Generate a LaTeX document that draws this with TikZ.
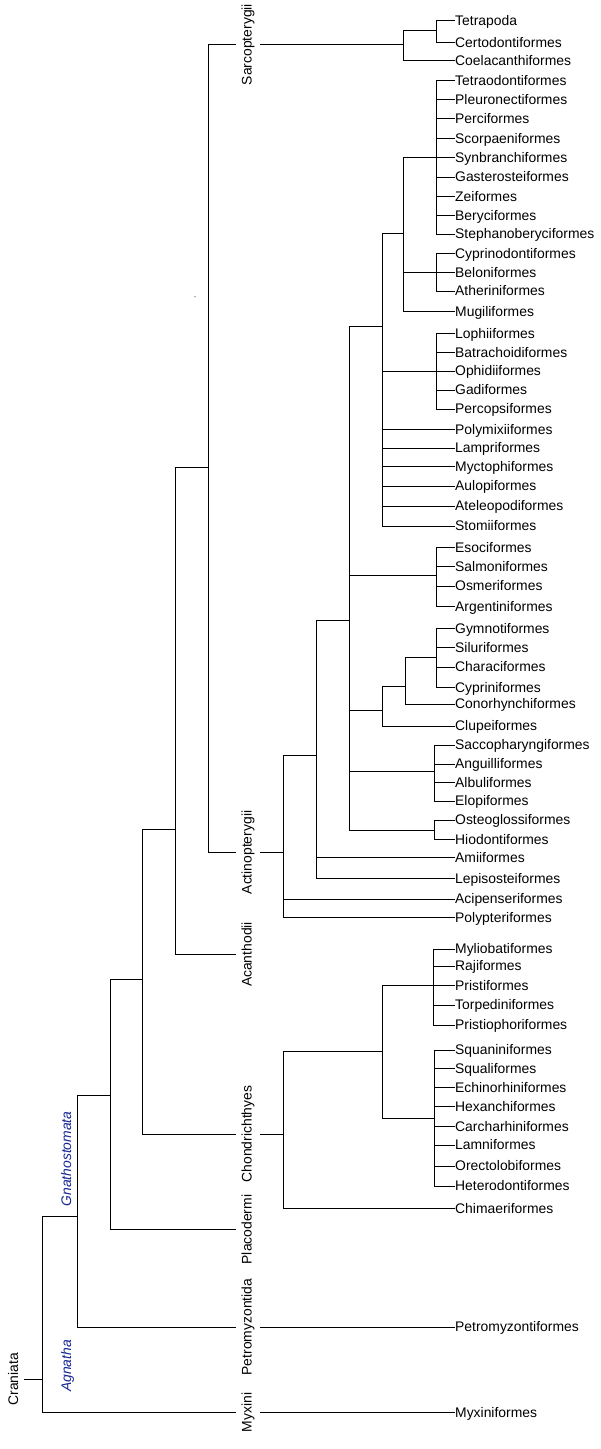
\documentclass[tikz,border=0pt]{standalone}
\usepackage{fontspec}
\setmainfont{Liberation Sans}
\definecolor{cladeblue}{RGB}{22,38,150}
\newcommand\treefont{\fontsize{13.9}{16}\selectfont}
\newcommand\tleaf[3]{\node[leaf] (#1) at (455,#2) {#3};}
\begin{document}
\begin{tikzpicture}[x=1pt,y=-1pt,
  leaf/.style={anchor=west,inner sep=0pt,text height=9.8pt,text depth=0pt,font=\treefont},
  clade/.style={rotate=90,inner xsep=0pt,inner ysep=5pt,text height=10pt,text depth=3pt,font=\treefont},
  group/.style={rotate=90,inner sep=0pt,text height=10pt,text depth=3pt,font=\treefont\itshape,text=cladeblue},
  branch/.style={draw=black,line width=1pt}
]
\useasboundingbox (0,0) rectangle (601,1449);
\fill[white] (0,0) rectangle (601,1449);

% ---------- leaves ----------
\tleaf{tetrapoda}{20.3}{Tetrapoda}
\tleaf{certodont}{42.3}{Certodontiformes}
\tleaf{coelacanth}{60.7}{Coelacanthiformes}
\tleaf{tetraodont}{80.3}{Tetraodontiformes}
\tleaf{pleuronect}{99.3}{Pleuronectiformes}
\tleaf{perci}{118.7}{Perciformes}
\tleaf{scorpaeni}{138.3}{Scorpaeniformes}
\tleaf{synbranchi}{157.7}{Synbranchiformes}
\tleaf{gasterostei}{177}{Gasterosteiformes}
\tleaf{zei}{196.3}{Zeiformes}
\tleaf{beryci}{215.3}{Beryciformes}
\tleaf{stephano}{234}{Stephanoberyciformes}
\tleaf{cyprinodont}{253.3}{Cyprinodontiformes}
\tleaf{beloni}{272.3}{Beloniformes}
\tleaf{atherini}{291}{Atheriniformes}
\tleaf{mugili}{311.7}{Mugiliformes}
\tleaf{lophii}{333.3}{Lophiiformes}
\tleaf{batrachoidi}{352.3}{Batrachoidiformes}
\tleaf{ophidii}{371}{Ophidiiformes}
\tleaf{gadi}{390}{Gadiformes}
\tleaf{percopsi}{409}{Percopsiformes}
\tleaf{polymixii}{429.3}{Polymixiiformes}
\tleaf{lampri}{448}{Lampriformes}
\tleaf{myctophi}{466.7}{Myctophiformes}
\tleaf{aulopi}{486}{Aulopiformes}
\tleaf{ateleopodi}{506}{Ateleopodiformes}
\tleaf{stomii}{526}{Stomiiformes}
\tleaf{esoci}{547.3}{Esociformes}
\tleaf{salmoni}{566.7}{Salmoniformes}
\tleaf{osmeri}{586}{Osmeriformes}
\tleaf{argentini}{606.7}{Argentiniformes}
\tleaf{gymnoti}{628.7}{Gymnotiformes}
\tleaf{siluri}{647.7}{Siluriformes}
\tleaf{characi}{667}{Characiformes}
\tleaf{cyprini}{687.3}{Cypriniformes}
\tleaf{conorhynchi}{704}{Conorhynchiformes}
\tleaf{clupei}{726}{Clupeiformes}
\tleaf{saccopharyngi}{745}{Saccopharyngiformes}
\tleaf{anguilli}{764}{Anguilliformes}
\tleaf{albuli}{782.3}{Albuliformes}
\tleaf{elopi}{801}{Elopiformes}
\tleaf{osteoglossi}{820}{Osteoglossiformes}
\tleaf{hiodonti}{839.3}{Hiodontiformes}
\tleaf{amii}{857.3}{Amiiformes}
\tleaf{lepisostei}{878.3}{Lepisosteiformes}
\tleaf{acipenseri}{899}{Acipenseriformes}
\tleaf{polypteri}{917.3}{Polypteriformes}
\tleaf{myliobati}{949}{Myliobatiformes}
\tleaf{raji}{966}{Rajiformes}
\tleaf{pristi}{985.3}{Pristiformes}
\tleaf{torpedini}{1005}{Torpediniformes}
\tleaf{pristiophori}{1025}{Pristiophoriformes}
\tleaf{squanini}{1050}{Squaniniformes}
\tleaf{squali}{1068.7}{Squaliformes}
\tleaf{echinorhini}{1087.3}{Echinorhiniformes}
\tleaf{hexanchi}{1106.7}{Hexanchiformes}
\tleaf{carcharhini}{1126.7}{Carcharhiniformes}
\tleaf{lamni}{1145}{Lamniformes}
\tleaf{orectolobi}{1166}{Orectolobiformes}
\tleaf{heterodonti}{1186}{Heterodontiformes}
\tleaf{chimaeri}{1208.3}{Chimaeriformes}
\tleaf{petromyzonti}{1327}{Petromyzontiformes}
\tleaf{myxini}{1412.3}{Myxiniformes}

% ---------- clade labels ----------
\node[clade] (Lsarco) at (248,44.5) {Sarcopterygii};
\node[clade] (Lacti) at (248,852.5) {Actinopterygii};
\node[clade] (Lacanth) at (248,954.5) {Acanthodii};
\node[clade] (Lchond) at (248,1134) {Chondrichthyes};
\node[clade] (Lplaco) at (248,1229.5) {Placodermi};
\node[clade] (Lpetro) at (248,1327) {Petromyzontida};
\node[clade] (Lmyx) at (248,1412.3) {Myxini};
\node[clade,inner ysep=3pt] (Lcran) at (14.5,1379.3) {Craniata};
\node[group] (Lgnath) at (67.5,1159) {Gnathostomata};
\node[group] (Lagn) at (67.5,1366) {Agnatha};

% ---------- internal junctions ----------
\coordinate (root) at (42.3,1379.3);
\coordinate (gnatho) at (77.3,1216);
\coordinate (n110) at (110,1095);
\coordinate (n142) at (142.3,979);
\coordinate (n175) at (175.5,829);
\coordinate (n208) at (208.3,467.3);
\coordinate (sarco) at (403.3,44.5);
\coordinate (tc) at (436.7,30.5);
\coordinate (acti) at (283.3,852.5);
\coordinate (a316) at (316,755);
\coordinate (a349) at (349.3,620.7);
\coordinate (a383) at (382.7,326.7);
\coordinate (perco) at (403.3,233.3);
\coordinate (big) at (436.7,157.7);
\coordinate (cypd) at (436.7,272.3);
\coordinate (lophi) at (436.7,371);
\coordinate (esoc) at (436.5,575);
\coordinate (oto) at (382.3,710);
\coordinate (ost) at (405.7,686);
\coordinate (ostar) at (436.5,657.7);
\coordinate (elopo) at (434,771.7);
\coordinate (osteo) at (434,830);
\coordinate (chond) at (283.3,1134);
\coordinate (elasmo) at (382.7,1051.7);
\coordinate (batoid) at (433.5,985.3);
\coordinate (shark) at (434.3,1118.3);

% ---------- branches ----------
\draw[branch] (Lcran.south) -- (root);
\draw[branch] (root) |- (gnatho);
\draw[branch] (root) |- (Lmyx.north);
\draw[branch] (Lmyx.south) -- (myxini.west);
\draw[branch] (gnatho) |- (n110);
\draw[branch] (gnatho) |- (Lpetro.north);
\draw[branch] (Lpetro.south) -- (petromyzonti.west);
\draw[branch] (n110) |- (n142);
\draw[branch] (n110) |- (Lplaco.north);
\draw[branch] (n142) |- (n175);
\draw[branch] (n142) |- (Lchond.north);
\draw[branch] (n175) |- (n208);
\draw[branch] (n175) |- (Lacanth.north);
\draw[branch] (n208) |- (Lsarco.north);
\draw[branch] (n208) |- (Lacti.north);

% Sarcopterygii
\draw[branch] (Lsarco.south) -- (sarco);
\draw[branch] (sarco) |- (tc);
\draw[branch] (sarco) |- (coelacanth.west);
\foreach \c in {tetrapoda,certodont} \draw[branch] (tc) |- (\c.west);

% Actinopterygii
\draw[branch] (Lacti.south) -- (acti);
\draw[branch] (acti) |- (a316);
\foreach \c in {acipenseri,polypteri} \draw[branch] (acti) |- (\c.west);
\draw[branch] (a316) |- (a349);
\foreach \c in {amii,lepisostei} \draw[branch] (a316) |- (\c.west);
\foreach \c in {a383,esoc,oto,elopo,osteo} \draw[branch] (a349) |- (\c);
\foreach \c in {perco,lophi} \draw[branch] (a383) |- (\c);
\foreach \c in {polymixii,lampri,myctophi,aulopi,ateleopodi,stomii} \draw[branch] (a383) |- (\c.west);
\foreach \c in {big,cypd} \draw[branch] (perco) |- (\c);
\draw[branch] (perco) |- (mugili.west);
\foreach \c in {tetraodont,pleuronect,perci,scorpaeni,synbranchi,gasterostei,zei,beryci,stephano} \draw[branch] (big) |- (\c.west);
\foreach \c in {cyprinodont,beloni,atherini} \draw[branch] (cypd) |- (\c.west);
\foreach \c in {lophii,batrachoidi,ophidii,gadi,percopsi} \draw[branch] (lophi) |- (\c.west);
\foreach \c in {esoci,salmoni,osmeri,argentini} \draw[branch] (esoc) |- (\c.west);
\draw[branch] (oto) |- (ost);
\draw[branch] (oto) |- (clupei.west);
\draw[branch] (ost) |- (ostar);
\draw[branch] (ost) |- (conorhynchi.west);
\foreach \c in {gymnoti,siluri,characi,cyprini} \draw[branch] (ostar) |- (\c.west);
\foreach \c in {saccopharyngi,anguilli,albuli,elopi} \draw[branch] (elopo) |- (\c.west);
\foreach \c in {osteoglossi,hiodonti} \draw[branch] (osteo) |- (\c.west);

% Chondrichthyes
\draw[branch] (Lchond.south) -- (chond);
\draw[branch] (chond) |- (elasmo);
\draw[branch] (chond) |- (chimaeri.west);
\foreach \c in {batoid,shark} \draw[branch] (elasmo) |- (\c);
\foreach \c in {myliobati,raji,pristi,torpedini,pristiophori} \draw[branch] (batoid) |- (\c.west);
\foreach \c in {squanini,squali,echinorhini,hexanchi,carcharhini,lamni,orectolobi,heterodonti} \draw[branch] (shark) |- (\c.west);

% stray dot
\fill[black!70] (195,296.7) circle (0.6pt);
\end{tikzpicture}
\end{document}
